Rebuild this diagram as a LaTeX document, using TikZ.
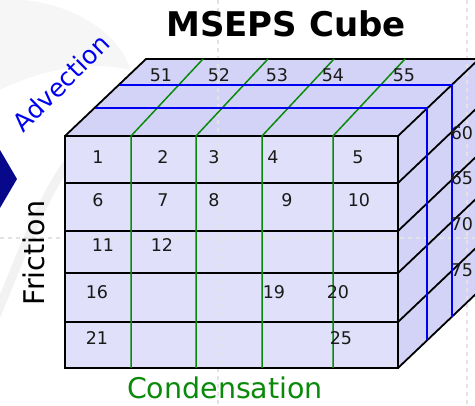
\documentclass[tikz,border=0pt]{standalone}
\usepackage{fontspec}
\setmainfont{DejaVu Sans}
\definecolor{frontc}{HTML}{E0E0FA}
\definecolor{sidec}{HTML}{D3D3F7}
\definecolor{greenl}{HTML}{0A8A0A}
\definecolor{bluel}{HTML}{0000F0}
\definecolor{navy}{HTML}{08088A}
\definecolor{numc}{HTML}{1A1A1A}
\tikzset{
  edge/.style={black, line width=1.8pt},
  gline/.style={greenl, line width=1.5pt},
  bline/.style={bluel, line width=1.8pt},
  num/.style={font=\fontsize{17.5}{19}\selectfont, text=numc, inner sep=0pt},
  axlabel/.style={font=\fontsize{28.5}{30}\selectfont, inner sep=0pt},
  bgdash/.style={gray!22, line width=1.2pt, dash pattern=on 4pt off 4pt}
}
\begin{document}
\begin{tikzpicture}[x=1pt,y=-1pt]
\useasboundingbox (0,0) rectangle (475,406);
\clip (0,0) rectangle (475,406);
% faint slide background
\fill[gray!7] (0,0) .. controls (60,-5) and (120,30) .. (130,70) .. controls (90,60) and (40,70) .. (0,90) -- cycle;
\draw[gray!10, line width=9pt] (-10,330) .. controls (20,260) and (40,200) .. (70,160);
% cube faces
\fill[sidec] (65,136) -- (146,59) -- (479,59) -- (398,136) -- cycle;
\fill[sidec] (398,136) -- (479,59) -- (479,291) -- (398,368) -- cycle;
\fill[frontc] (65,136) rectangle (398,368);
% faint slide grid
\draw[bgdash] (0,238) -- (475,238);
\draw[bgdash] (218,0) -- (218,406);
\draw[bgdash] (467,0) -- (467,406);
% black edges and rows
\draw[edge, line join=round] (65,136) -- (146,59) -- (479,59);
\draw[edge] (65,136) rectangle (398,368);
\foreach \y in {136,183,231,273,322,368}{
  \draw[edge] (65,\y) -- (398,\y) -- ++(81,-77);
}
% green columns
\foreach \x in {131,196,262,333}{
  \draw[gline] (\x,368) -- (\x,136) -- ++(72,-77);
}
% blue layers
\draw[bline] (95,108) -- (427,108) -- (427,340);
\draw[bline] (119,85) -- (452,85) -- (452,317);
% navy pointer
\fill[navy] (0,150) -- (17,179) -- (0,208) -- cycle;
% title and axis labels
\node[font=\bfseries\fontsize{34}{37}\selectfont, anchor=base, inner sep=0pt] (title) at (286,37) {MSEPS Cube};
\node[axlabel, rotate=90, anchor=center] (fric) at (34,253) {Friction};
\node[axlabel, text=greenl, anchor=base] (cond) at (225,399) {Condensation};
\node[font=\fontsize{25}{27}\selectfont, inner sep=0pt, text=bluel, rotate=45] (adv) at (61,83) {Advection};
% top numbers
\node[num] (n51) at (161,75) {51};
\node[num] (n52) at (219,75) {52};
\node[num] (n53) at (277,75) {53};
\node[num] (n54) at (333,75) {54};
\node[num] (n55) at (404,75) {55};
% right numbers
\node[num] (n60) at (462,133) {60};
\node[num] (n65) at (462,178) {65};
\node[num] (n70) at (462,224) {70};
\node[num] (n75) at (462,270) {75};
% front numbers
\node[num] (n1) at (98,157) {1};
\node[num] (n2) at (163,157) {2};
\node[num] (n3) at (214,157) {3};
\node[num] (n4) at (273,157) {4};
\node[num] (n5) at (358,157) {5};
\node[num] (n6) at (98,200) {6};
\node[num] (n7) at (163,200) {7};
\node[num] (n8) at (214,200) {8};
\node[num] (n9) at (287,200) {9};
\node[num] (n10) at (359,200) {10};
\node[num] (n11) at (103,245) {11};
\node[num] (n12) at (162,245) {12};
\node[num] (n16) at (97,292) {16};
\node[num] (n19) at (274,292) {19};
\node[num] (n20) at (338,292) {20};
\node[num] (n21) at (97,338) {21};
\node[num] (n25) at (341,338) {25};
\end{tikzpicture}
\end{document}
